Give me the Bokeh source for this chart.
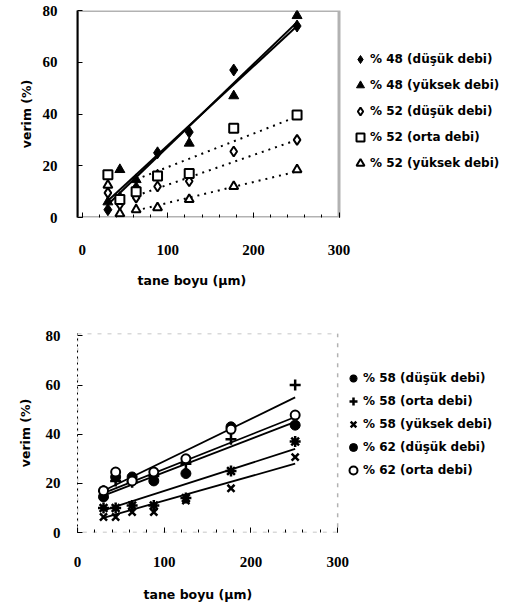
from bokeh.plotting import figure
from bokeh.models import Legend, LegendItem, Range1d, FixedTicker, BoxAnnotation, Title
from bokeh.layouts import column
from bokeh.embed import file_html
from bokeh.resources import INLINE

# ---------------- data ----------------
size_um = [30, 44, 63, 88, 125, 177, 251]

# top chart
top_labels = ["% 48 (düşük debi)", "% 48 (yüksek debi)", "% 52 (düşük debi)",
              "% 52 (orta debi)", "% 52 (yüksek debi)"]
p48_dusuk = [3, 7.7, 11.5, 25, 33, 57, 74]
p48_yuksek = [6, 18.5, 14.6, 16.5, 28.7, 47, 78]
p52_dusuk = [9.5, 5, 7.7, 12, 14, 25.5, 30]
p52_orta = [16.5, 7, 10, 16, 17, 34.5, 39.6]
p52_yuksek = [12.5, 1.5, 3, 3.8, 7, 12, 18.5]

# trend lines of the top chart (end points)
fit48_x = [30, 251]
fit48_dusuk = [6.5, 74]
fit48_yuksek = [5, 75.5]
fit52_x = [63, 251]
fit52_dusuk = [8.4, 30]
fit52_orta = [14.7, 39]
fit52_yuksek = [2.7, 17.8]

# bottom chart
bot_labels = ["% 58 (düşük debi)", "% 58 (orta debi)", "% 58 (yüksek debi)",
              "% 62 (düşük debi)", "% 62 (orta debi)"]
p58_dusuk = [10, 10, 11, 11, 14, 25, 37]
p58_orta = [17, 21, 20.5, 23, 28, 38, 60]
p58_yuksek = [6.3, 6.3, 8.3, 8.3, 13, 18, 30.7]
p62_dusuk = [14.5, 22.6, 22.6, 21, 24, 43, 43.7]
p62_orta = [17, 24.6, 21, 24.6, 30, 42, 47.8]

fitb_x = [30, 251]
fit58_dusuk = [9, 34]
fit58_orta = [17, 55]
fit58_yuksek = [6, 28]
fit62_dusuk = [15, 45]
fit62_orta = [16, 47]

x_ticks = [0, 100, 200, 300]
y_ticks = [0, 20, 40, 60, 80]
x_axis_max = 300
x_title = "tane boyu (µm)"
y_title = "verim (%)"

TICK_FONT = "Liberation Serif"
LABEL_FONT = "DejaVu Sans"
LEGEND_FONT = "DejaVu Sans"

top_styles = [
    dict(marker="diamond", size=12, fill_color="black", line_color="black"),
    dict(marker="triangle", size=10, fill_color="black", line_color="black"),
    dict(marker="diamond", size=10, fill_color="white", line_color="black", line_width=2),
    dict(marker="square", size=9, fill_color="white", line_color="black", line_width=2),
    dict(marker="triangle", size=9, fill_color="white", line_color="black", line_width=2),
]
bot_styles = [
    dict(marker="asterisk", size=11, line_color="black", line_width=2.5),
    dict(marker="cross", size=11, line_color="black", line_width=2.5),
    dict(marker="x", size=10, line_color="black", line_width=2.5),
    dict(marker="circle", size=10, fill_color="black", line_color="black"),
    dict(marker="circle", size=9, fill_color="white", line_color="black", line_width=2),
]


def style_axes(p, xl_stand, yl_stand, yal_stand, title_offset, title_standoff):
    for ax in (p.xaxis[0], p.yaxis[0]):
        ax.major_label_text_font = TICK_FONT
        ax.major_label_text_font_style = "bold"
        ax.major_label_text_font_size = "15px"
        ax.major_label_text_color = "black"
        ax.axis_label_text_font = LABEL_FONT
        ax.axis_label_text_font_style = "bold"
        ax.axis_label_text_font_size = "12.5px"
        ax.axis_label_text_color = "black"
        ax.major_tick_out = 0
        ax.major_tick_in = 5
        ax.minor_tick_out = 0
        ax.minor_tick_in = 3
        ax.major_tick_line_color = "black"
        ax.minor_tick_line_color = "black"
    p.xaxis[0].ticker = FixedTicker(ticks=x_ticks, minor_ticks=list(range(0, 301, 20)))
    p.yaxis[0].ticker = FixedTicker(ticks=y_ticks, minor_ticks=[])
    p.xaxis[0].major_label_standoff = xl_stand
    p.yaxis[0].major_label_standoff = yl_stand
    p.yaxis[0].axis_label_standoff = yal_stand
    p.yaxis[0].axis_label = y_title
    p.xaxis[0].axis_line_color = None
    p.xgrid.visible = False
    p.ygrid.visible = False
    p.outline_line_color = None
    p.background_fill_color = "white"
    p.border_fill_color = "white"
    p.add_layout(Title(text=x_title, align="left", offset=title_offset, standoff=title_standoff,
                       text_font=LABEL_FONT, text_font_style="bold",
                       text_font_size="12.5px", text_color="black"), "below")


def make_legend(labels, renderers, loc, spacing):
    return Legend(items=[LegendItem(label=lab, renderers=[r]) for lab, r in zip(labels, renderers)],
                  location=loc, orientation="vertical",
                  glyph_width=20, glyph_height=20, label_height=20, label_standoff=0,
                  spacing=spacing, padding=0, margin=0,
                  label_text_font=LEGEND_FONT, label_text_font_style="bold",
                  label_text_font_size="12px", label_text_color="black",
                  background_fill_alpha=0, border_line_color=None)


# ---------------- top figure ----------------
p1 = figure(width=508, height=300, output_backend="svg", toolbar_location=None,
            x_range=Range1d(-5.5, 498), y_range=Range1d(0, 80),
            min_border_left=75, min_border_right=0, min_border_top=10, min_border_bottom=82)
style_axes(p1, 27, 20, 6, 60, 26)
p1.yaxis[0].axis_line_width = 2
p1.add_layout(BoxAnnotation(right=x_axis_max, fill_alpha=0, line_color="black", line_width=3))

p1.line(fit48_x, fit48_dusuk, line_color="black", line_width=2)
p1.line(fit48_x, fit48_yuksek, line_color="black", line_width=2)
p1.line(fit52_x, fit52_orta, line_color="black", line_width=2, line_dash="2 5")
p1.line(fit52_x, fit52_dusuk, line_color="black", line_width=2, line_dash="2 5")
p1.line(fit52_x, fit52_yuksek, line_color="black", line_width=2, line_dash="2 5")

r_top = [p1.scatter(size_um, ys, **st) for ys, st in
         zip([p48_dusuk, p48_yuksek, p52_dusuk, p52_orta, p52_yuksek], top_styles)]
p1.add_layout(make_legend(top_labels, r_top, (273, 44), 6), "center")

# ---------------- bottom figure ----------------
p2 = figure(width=508, height=316, output_backend="svg", toolbar_location=None,
            x_range=Range1d(0, 497), y_range=Range1d(0, 81),
            min_border_left=77, min_border_right=0, min_border_top=33, min_border_bottom=84)
style_axes(p2, 24, 17, 10, 66, 30)
p2.yaxis[0].axis_line_dash = "2 4"
p2.add_layout(BoxAnnotation(right=x_axis_max, fill_alpha=0, line_color="black",
                            line_width=1.5, line_dash="4 6"))

for ys in (fit58_orta, fit62_orta, fit62_dusuk, fit58_dusuk, fit58_yuksek):
    p2.line(fitb_x, ys, line_color="black", line_width=1.8)

r_bot = [p2.scatter(size_um, ys, **st) for ys, st in
         zip([p58_dusuk, p58_orta, p58_yuksek, p62_dusuk, p62_orta], bot_styles)]
p2.add_layout(make_legend(bot_labels, r_bot, (266, 52), 3), "center")

layout = column(p1, p2, spacing=0)
open("out.html", "w").write(file_html(layout, INLINE))
